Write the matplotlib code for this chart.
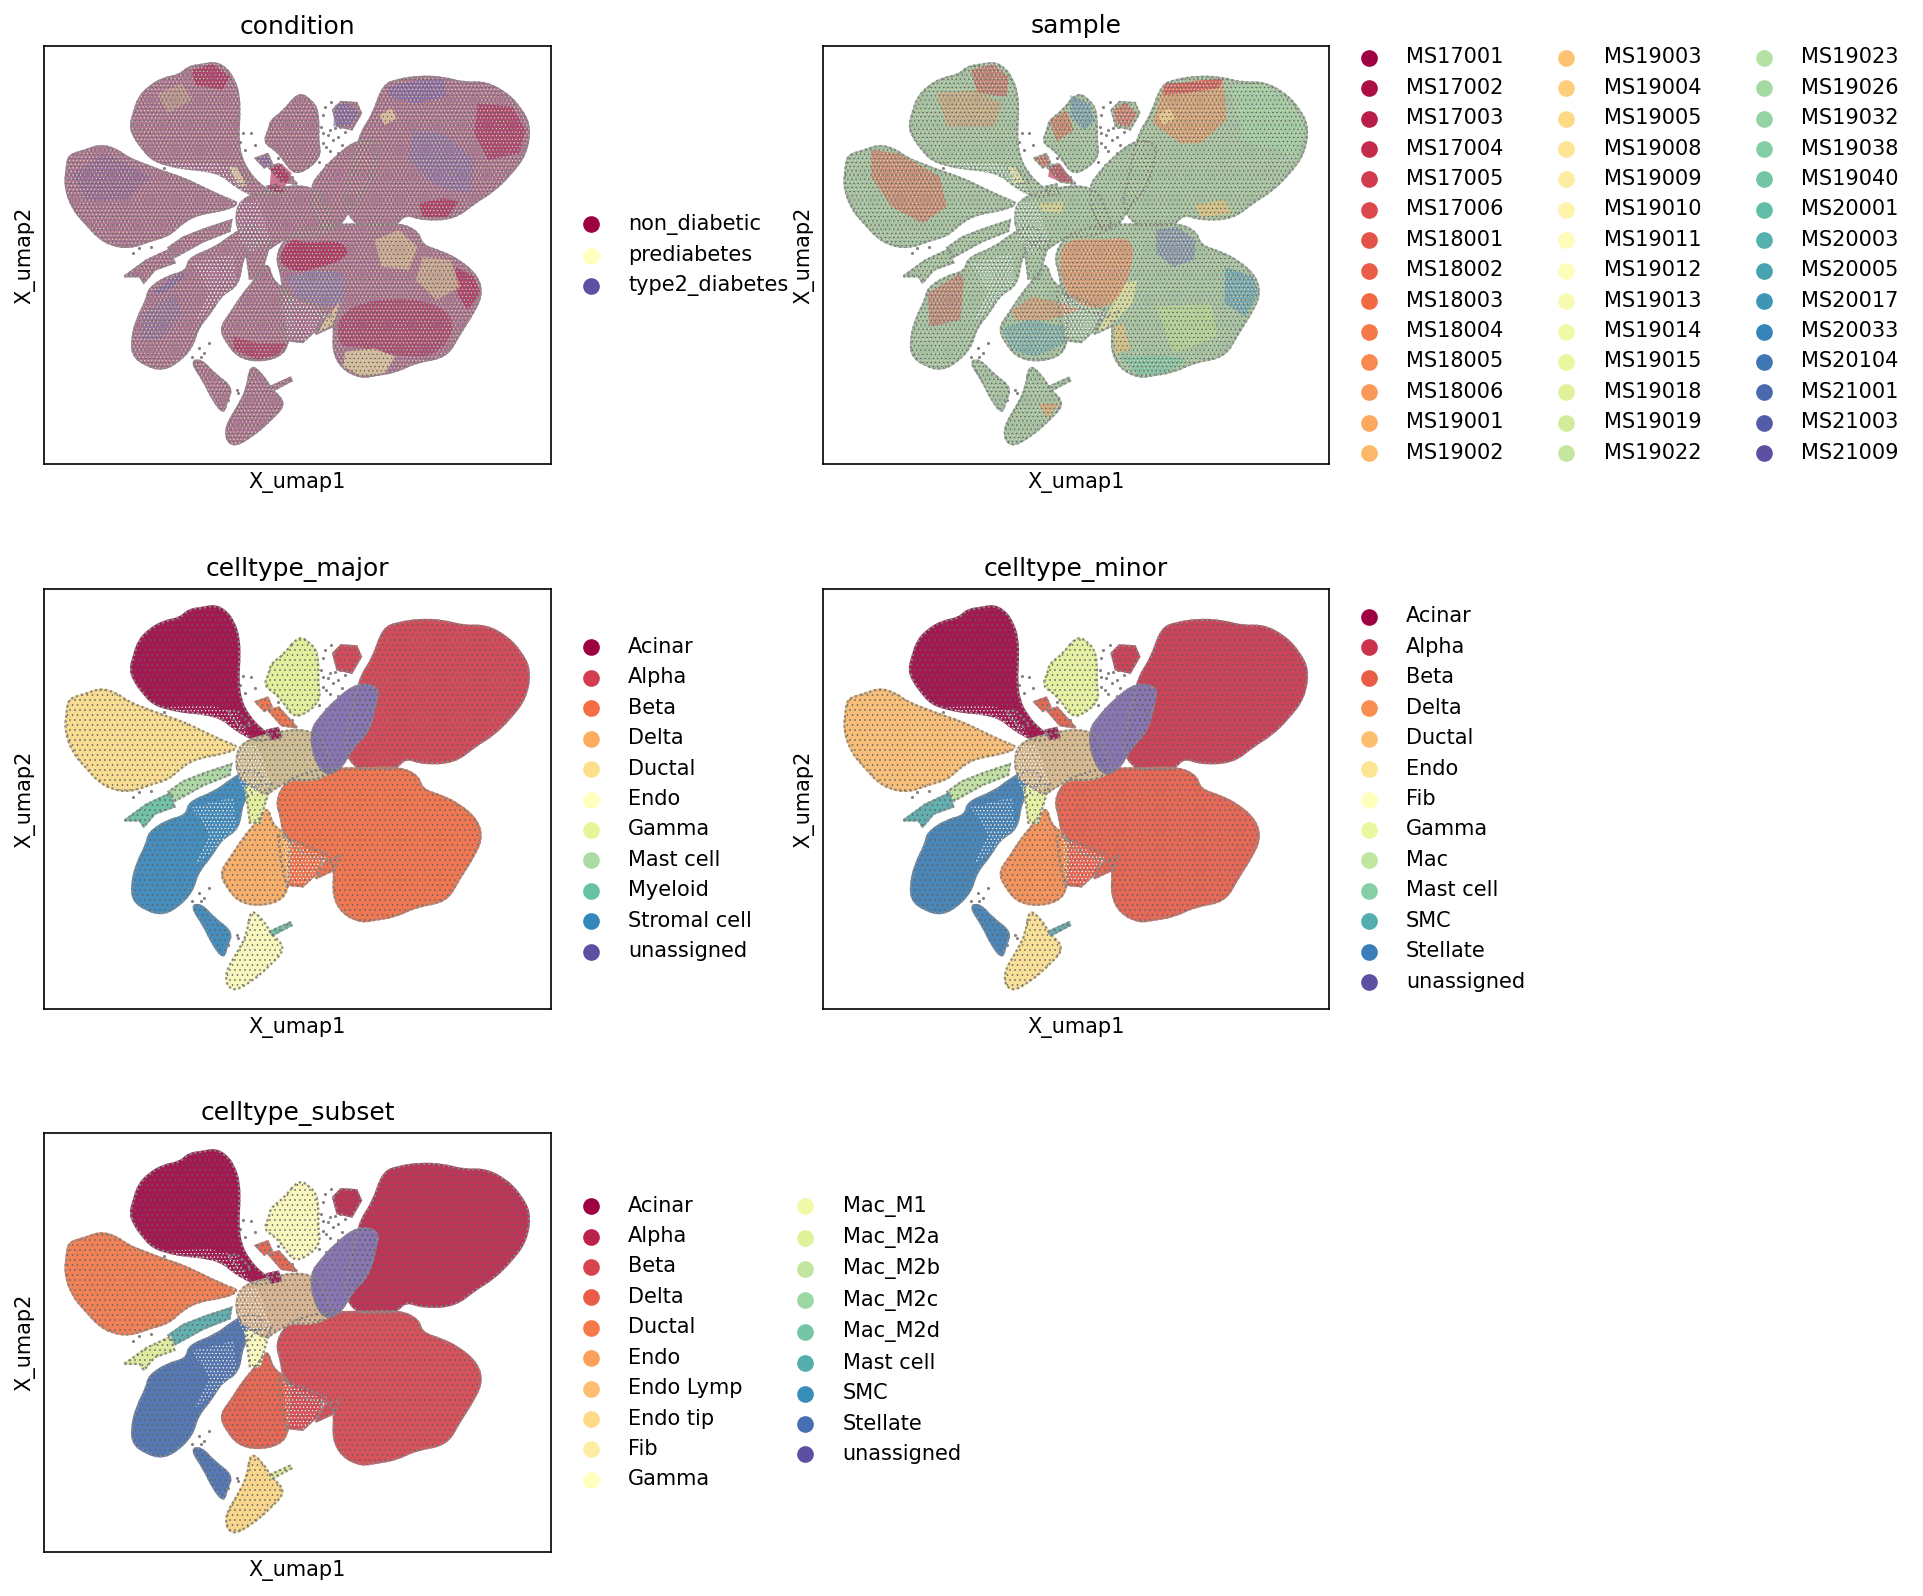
import numpy as np
import matplotlib
matplotlib.use('Agg')
import matplotlib.pyplot as plt
from matplotlib.colors import to_rgb
from matplotlib.path import Path
from matplotlib.patches import PathPatch

# legend categories
condition = ['non_diabetic', 'prediabetes', 'type2_diabetes']
sample = ['MS17001', 'MS17002', 'MS17003', 'MS17004', 'MS17005', 'MS17006', 'MS18001', 'MS18002', 'MS18003',
          'MS18004', 'MS18005', 'MS18006', 'MS19001', 'MS19002', 'MS19003', 'MS19004', 'MS19005', 'MS19008',
          'MS19009', 'MS19010', 'MS19011', 'MS19012', 'MS19013', 'MS19014', 'MS19015', 'MS19018', 'MS19019',
          'MS19022', 'MS19023', 'MS19026', 'MS19032', 'MS19038', 'MS19040', 'MS20001', 'MS20003', 'MS20005',
          'MS20017', 'MS20033', 'MS20104', 'MS21001', 'MS21003', 'MS21009']
major = ['Acinar', 'Alpha', 'Beta', 'Delta', 'Ductal', 'Endo', 'Gamma', 'Mast cell', 'Myeloid', 'Stromal cell',
         'unassigned']
minor = ['Acinar', 'Alpha', 'Beta', 'Delta', 'Ductal', 'Endo', 'Fib', 'Gamma', 'Mac', 'Mast cell', 'SMC',
         'Stellate', 'unassigned']
subset = ['Acinar', 'Alpha', 'Beta', 'Delta', 'Ductal', 'Endo', 'Endo Lymp', 'Endo tip', 'Fib', 'Gamma', 'Mac_M1',
          'Mac_M2a', 'Mac_M2b', 'Mac_M2c', 'Mac_M2d', 'Mast cell', 'SMC', 'Stellate', 'unassigned']

# cluster outlines (x, y in umap panel units, y pointing down)
acinar = [(290, 300), (300, 260), (315, 212), (345, 180), (385, 155), (435, 145), (460, 120), (500, 114), (538, 107),
          (570, 125), (592, 158), (607, 205), (608, 270), (604, 330), (611, 390), (634, 436), (669, 476), (706, 500),
          (670, 514), (640, 504), (590, 474), (560, 446), (510, 431), (450, 426), (400, 416), (355, 400), (325, 365),
          (303, 333)]
ductal = [(100, 482), (106, 420), (112, 385), (158, 372), (205, 354), (252, 369), (284, 394), (334, 414), (384, 434),
          (444, 454), (504, 484), (566, 514), (610, 530), (562, 551), (492, 561), (444, 586), (404, 626), (352, 641),
          (290, 664), (236, 656), (196, 631), (165, 595), (125, 550)]
gamma = [(780, 197), (815, 220), (834, 248), (838, 300), (836, 340), (844, 392), (792, 436), (762, 436), (740, 404),
         (715, 371), (678, 347), (694, 308), (699, 281), (736, 254)]
beta_a = [(655, 395), (690, 382), (702, 410), (680, 422)]
beta_b = [(692, 420), (722, 412), (775, 472), (730, 465)]
alpha_small = [(880, 250), (903, 226), (948, 229), (961, 260), (934, 308), (892, 298)]
alpha_main = [(955, 326), (995, 266), (1025, 175), (1068, 159), (1130, 149), (1200, 152), (1260, 169), (1322, 166),
              (1384, 199), (1426, 246), (1453, 300), (1441, 382), (1395, 444), (1344, 495), (1294, 526), (1233, 576),
              (1140, 580), (1090, 561), (1062, 596), (1000, 596), (946, 596), (909, 532), (925, 478)]
unassigned = [(1014, 350), (1004, 402), (984, 484), (934, 534), (904, 594), (858, 616), (824, 562), (814, 480),
              (846, 436), (886, 391), (950, 339)]
centre = [(596, 560), (616, 516), (680, 494), (780, 474), (844, 496), (866, 558), (886, 602), (822, 631), (760, 626),
          (722, 646), (682, 676), (648, 646), (606, 624)]
beta_main = [(714, 690), (741, 636), (778, 614), (850, 594), (950, 594), (1072, 589), (1128, 616), (1138, 656),
             (1192, 674), (1244, 699), (1298, 746), (1313, 800), (1291, 853), (1246, 924), (1210, 991), (1122, 1006),
             (1062, 1036), (1000, 1046), (960, 1053), (906, 1026), (879, 972), (884, 900), (874, 866), (798, 856),
             (735, 794), (729, 742)]
wedge = [(902, 853), (882, 897), (830, 922), (856, 873)]
delta = [(690, 704), (704, 766), (756, 796), (751, 870), (751, 953), (724, 991), (660, 1004), (606, 991), (574, 953),
         (550, 905), (585, 856), (615, 806), (656, 756)]
beta_side = [(720, 794), (792, 819), (858, 848), (834, 906), (792, 946), (743, 941), (729, 872)]
stromal = [(294, 942), (309, 878), (339, 818), (344, 786), (397, 749), (455, 734), (460, 694), (537, 664), (587, 624),
           (640, 594), (686, 620), (645, 665), (616, 694), (606, 774), (555, 805), (526, 855), (486, 905), (471, 962),
           (424, 1011), (380, 1030), (336, 1016), (299, 989)]
stromal_tail = [(466, 1004), (497, 999), (534, 1041), (588, 1083), (571, 1124), (562, 1162), (530, 1119), (505, 1064)]
mast = [(445, 632), (510, 606), (584, 581), (579, 613), (503, 644), (422, 690), (402, 663)]
myeloid = [(274, 749), (338, 701), (407, 668), (419, 708), (362, 729), (330, 768), (318, 749)]
endo = [(640, 1012), (677, 1047), (700, 1087), (743, 1130), (704, 1175), (643, 1231), (583, 1263), (562, 1210),
        (605, 1137), (630, 1087)]
endo_spur = [(696, 1081), (756, 1053), (759, 1062), (704, 1092)]
acinar_dark = [(575, 425), (600, 420), (642, 465), (610, 472)]
acinar_bit = [(688, 480), (720, 473), (728, 500), (700, 506)]
stalk = [(625, 650), (700, 640), (682, 700), (667, 756), (638, 756)]

# thin zones where white shows between the cells
sparse_a = [(400, 410), (520, 405), (600, 425), (640, 500), (600, 540), (520, 470)]
sparse_b = [(590, 530), (660, 520), (700, 640), (640, 680), (610, 640)]
sparse_d = [(470, 710), (590, 680), (600, 770), (510, 860), (480, 880), (520, 790)]
sparse_e = [(735, 800), (860, 860), (800, 945), (745, 930)]

# stray cells
stray_x = [618, 640, 610, 652, 625, 300, 315, 350, 490, 520, 495, 505, 855, 850, 870, 880, 860, 830, 845, 700, 575,
           605, 600, 470, 330, 345, 390, 760, 740, 720, 875, 895, 905, 850, 865, 885, 900, 915, 850, 870, 895, 840, 860]
stray_y = [318, 320, 345, 355, 370, 680, 665, 660, 965, 950, 990, 980, 240, 265, 310, 340, 360, 250, 300, 1150, 1120,
           1100, 1090, 990, 445, 430, 425, 450, 440, 395, 225, 330, 355, 320, 325, 305, 300, 315, 350, 372, 378, 405, 415]

# colour patches that only show in the two mixed panels
cond_overlays = [
    ([(725, 680), (760, 635), (800, 650), (905, 640), (930, 690), (840, 725), (770, 735), (730, 715)], '#b2184f'),
    ([(700, 425), (730, 410), (760, 440), (730, 500), (695, 490)], '#b2184f'),
    ([(470, 130), (530, 112), (580, 150), (560, 190), (480, 175)], '#b2245a'),
    ([(1300, 230), (1400, 240), (1440, 310), (1420, 380), (1330, 400), (1290, 320)], '#b32c5e'),
    ([(1130, 530), (1200, 515), (1245, 525), (1210, 572), (1140, 572)], '#b2245a'),
    ([(900, 850), (1040, 810), (1190, 830), (1240, 900), (1180, 990), (1070, 990), (960, 960), (890, 960)], '#ac3a66'),
    ([(1235, 720), (1290, 750), (1307, 800), (1270, 850), (1240, 800)], '#b2245a'),
    ([(590, 930), (660, 950), (745, 950), (720, 985), (660, 998), (590, 970)], '#b2305e'),
    ([(885, 235), (920, 226), (955, 260), (930, 295), (880, 300)], '#7a6cb0'),
    ([(660, 395), (690, 382), (702, 410), (680, 422)], '#7a6cb0'),
    ([(745, 750), (830, 730), (910, 740), (910, 830), (850, 840), (770, 810)], '#8a84b4'),
    ([(1040, 180), (1130, 160), (1200, 158), (1210, 210), (1120, 230), (1040, 210)], '#7f6bb0'),
    ([(1110, 310), (1200, 320), (1290, 400), (1280, 500), (1180, 480), (1100, 400)], '#8a78b0'),
    ([(350, 800), (440, 735), (450, 750), (390, 800)], '#7a6cb0'),
    ([(915, 975), (1000, 965), (1060, 990), (1030, 1040), (960, 1047), (910, 1020)], '#efe9a8'),
    ([(900, 825), (880, 895), (836, 918), (860, 875)], '#f3eda0'),
    ([(575, 420), (600, 420), (630, 475), (605, 480)], '#efe6a0'),
    ([(1015, 265), (1050, 245), (1065, 275), (1030, 295)], '#efe6a0'),
    ([(1000, 640), (1070, 610), (1125, 660), (1100, 730), (1020, 720)], '#dcc796'),
    ([(1140, 690), (1220, 700), (1250, 780), (1180, 820), (1120, 760)], '#d6bd92'),
    ([(120, 440), (220, 380), (350, 450), (280, 520), (160, 520)], '#8f6a9e'),
    ([(330, 860), (420, 800), (440, 860), (380, 940), (320, 940)], '#8f78a6'),
    ([(370, 200), (440, 170), (470, 220), (400, 260)], '#c2a48e'),
]
samp_overlays = [
    ([(1030, 180), (1130, 160), (1205, 160), (1215, 280), (1140, 350), (1080, 350), (1000, 290)], '#ee8a62'),
    ([(1035, 170), (1110, 165), (1205, 155), (1190, 185), (1090, 200), (1030, 205)], '#cf4158'),
    ([(885, 250), (920, 226), (955, 260), (930, 302), (895, 292)], '#dc5a60'),
    ([(700, 420), (730, 410), (770, 470), (730, 465), (695, 450)], '#c62650'),
    ([(655, 395), (690, 382), (702, 410), (680, 422)], '#d9525a'),
    ([(700, 280), (750, 250), (770, 310), (720, 345)], '#d9665c'),
    ([(470, 130), (535, 112), (580, 150), (575, 210), (490, 200)], '#cf5a5f'),
    ([(370, 200), (480, 190), (560, 230), (540, 300), (400, 300)], '#d29a78'),
    ([(180, 370), (260, 380), (380, 450), (400, 540), (330, 590), (240, 540), (180, 450)], '#dd6c5e'),
    ([(345, 800), (440, 740), (450, 760), (440, 880), (350, 900)], '#cc6a68'),
    ([(725, 680), (760, 635), (850, 640), (950, 630), (930, 770), (880, 840), (800, 845), (740, 790)], '#f08360'),
    ([(590, 850), (650, 810), (740, 830), (790, 850), (700, 880), (600, 880)], '#e08a6c'),
    ([(670, 1130), (730, 1130), (690, 1175)], '#ec9568'),
    ([(760, 205), (815, 230), (832, 280), (800, 310), (760, 270)], '#6a90bc'),
    ([(1010, 610), (1070, 600), (1125, 640), (1120, 700), (1060, 720), (1010, 680)], '#7d82b8'),
    ([(1210, 720), (1292, 750), (1307, 800), (1270, 870), (1210, 830)], '#5c98bb'),
    ([(560, 905), (640, 880), (745, 900), (745, 950), (660, 990), (590, 970)], '#6ea6b4'),
    ([(1230, 180), (1320, 172), (1400, 230), (1447, 300), (1420, 390), (1260, 340)], '#9fd2a6'),
    ([(905, 990), (1030, 985), (1100, 1000), (1030, 1040), (960, 1047)], '#6dbfa6'),
    ([(1010, 840), (1170, 830), (1190, 930), (1060, 980)], '#b9d890'),
    ([(920, 770), (955, 760), (940, 830), (880, 895), (836, 918), (860, 875)], '#f4e8a0'),
    ([(575, 420), (600, 420), (625, 465), (600, 475)], '#f3e8a2'),
    ([(665, 530), (740, 525), (735, 560), (680, 555)], '#ead792'),
    ([(1015, 265), (1050, 245), (1065, 275), (1030, 295)], '#efdf9c'),
    ([(1120, 535), (1210, 520), (1230, 560), (1140, 572)], '#f0bd74'),
    ([(888, 900), (915, 890), (935, 970), (890, 980)], '#f2bc74'),
]

regions = [acinar, ductal, gamma, alpha_main, alpha_small, beta_main, wedge, beta_side, delta, stromal, stromal_tail,
           stalk, mast, myeloid, endo, endo_spur, beta_a, beta_b, centre, unassigned, acinar_dark, acinar_bit]
sparse = [sparse_a, sparse_b, sparse_d, sparse_e]

major_map = ['Acinar', 'Ductal', 'Gamma', 'Alpha', 'Alpha', 'Beta', 'Beta', 'Beta', 'Delta', 'Stromal cell',
             'Stromal cell', 'Gamma', 'Mast cell', 'Myeloid', 'Endo', 'Myeloid', 'Beta', 'Beta', '#cdbb8e', '#7f6cb0',
             'Acinar', 'Acinar']
minor_map = ['Acinar', 'Ductal', 'Gamma', 'Alpha', 'Alpha', 'Beta', 'Beta', 'Beta', 'Delta', 'Stellate', 'Stellate',
             'Gamma', 'Mac', 'SMC', 'Endo', 'SMC', 'Beta', 'Beta', '#d6b98c', '#7f6cb0', 'Acinar', 'Acinar']
subset_map = ['Acinar', 'Ductal', 'Gamma', 'Alpha', 'Alpha', 'Beta', 'Beta', 'Beta', 'Delta', 'Stellate', 'Stellate',
              'Gamma', 'Mast cell', 'Mac_M2a', 'Endo tip', 'Mac_M2a', 'Delta', 'Delta', '#d8b48e', '#7f6cb0',
              'Acinar', 'Acinar']

plt.rcParams['font.size'] = 10
plt.rcParams['hatch.linewidth'] = 0.3
cmap = plt.get_cmap('Spectral')


def palette(labels):
    return dict(zip(labels, cmap(np.linspace(0, 1, len(labels)))))


def lighten(c, amount=0.12):
    c = np.array(to_rgb(c))
    return c * (1 - amount) + np.array([0.8, 0.75, 0.75]) * amount


def smooth_path(pts):
    # small pieces stay plain polygons, the curve would eat them
    if len(pts) < 10 and len(pts) != 8:
        return Path(list(pts) + [pts[0]], closed=True)
    pts = np.array(pts, dtype=float)
    mids = (pts + np.roll(pts, -1, axis=0)) / 2
    verts = [mids[-1]]
    codes = [Path.MOVETO]
    for p, m in zip(pts, mids):
        verts += [p, m]
        codes += [Path.CURVE3, Path.CURVE3]
    return Path(verts, codes)


def blob(ax, pts, color, hatch='.....', dots='#606060'):
    p = smooth_path(pts)
    ax.add_patch(PathPatch(p, fc=color, ec=color, lw=1.0, zorder=2))
    if hatch:
        ax.add_patch(PathPatch(p, fc='none', ec=dots, hatch=hatch, lw=0, zorder=3))


def edges(ax):
    for pts in regions:
        ax.add_patch(PathPatch(smooth_path(pts), fc='none', ec='#8a8a8a', lw=1.1, ls=(0, (1, 1.2)), zorder=2.5))
    for pts in sparse:
        ax.add_patch(PathPatch(smooth_path(pts), fc='none', ec='white', hatch='.......', lw=0, zorder=4))


def setup(pos, title, labels, ncol=1):
    x0, y0, x1, y1 = pos
    ax = fig.add_axes([x0 / W, 1 - y1 / H, (x1 - x0) / W, (y1 - y0) / H])
    ax.set_xlim(40, 1513)
    ax.set_ylim(1312, 58)
    ax.set_xticks([])
    ax.set_yticks([])
    ax.set_title(title, fontsize=12)
    ax.set_xlabel('X_umap1')
    ax.set_ylabel('X_umap2')
    pal = palette(labels)
    for lab in labels:
        ax.scatter([], [], color=pal[lab], s=49, label=lab)
    ax.legend(loc='center left', bbox_to_anchor=(1, 0.5), frameon=False, ncol=ncol)
    ax.scatter(stray_x, stray_y, s=2.2, color='#8a7f80', linewidths=0, zorder=2)
    return ax, pal


def typed_panel(ax, pal, mapping):
    for pts, name in zip(regions, mapping):
        c = pal[name] if name in pal else name
        blob(ax, pts, lighten(c))
    edges(ax)


def mixed_panel(ax, base, overlays, specks):
    for pts in regions:
        blob(ax, pts, base, hatch='')
    for pts, c in overlays:
        ax.add_patch(PathPatch(smooth_path(pts), fc=c, ec='none', alpha=0.6, zorder=2.2))
    for pts in regions:
        p = smooth_path(pts)
        for colour, h in specks:
            ax.add_patch(PathPatch(p, fc='none', ec=colour, hatch=h, lw=0, zorder=3))
    edges(ax)


W, H = 1923, 1596
fig = plt.figure(figsize=(W / 150, H / 150), dpi=150)

ax, pal = setup((44, 46, 551, 464), 'condition', condition)
mixed_panel(ax, '#ab7593', cond_overlays, [('#e2d9a8', '.......'), ('#606060', '......')])

ax, pal = setup((823, 46, 1329, 464), 'sample', sample, ncol=3)
mixed_panel(ax, '#a3c0a4', samp_overlays, [('#dfe0a4', '.......'), ('#606060', '......')])

ax, pal = setup((44, 589, 551, 1009), 'celltype_major', major)
typed_panel(ax, pal, major_map)

ax, pal = setup((823, 589, 1329, 1009), 'celltype_minor', minor)
typed_panel(ax, pal, minor_map)

ax, pal = setup((44, 1133, 551, 1552), 'celltype_subset', subset, ncol=2)
typed_panel(ax, pal, subset_map)

fig.savefig('out.png', dpi=150)
